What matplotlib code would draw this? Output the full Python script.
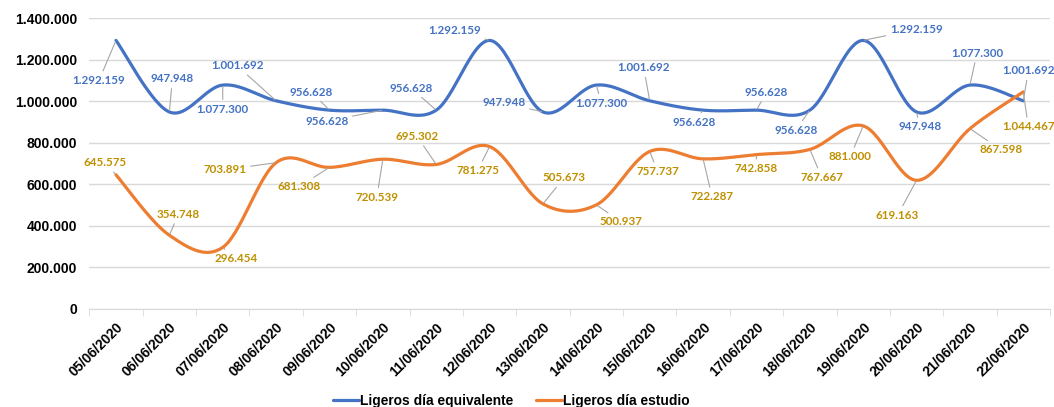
import numpy as np
import matplotlib
matplotlib.use("Agg")
import matplotlib.pyplot as plt
from matplotlib.ticker import FuncFormatter, FixedLocator

dates = ["05/06/2020", "06/06/2020", "07/06/2020", "08/06/2020", "09/06/2020",
         "10/06/2020", "11/06/2020", "12/06/2020", "13/06/2020", "14/06/2020",
         "15/06/2020", "16/06/2020", "17/06/2020", "18/06/2020", "19/06/2020",
         "20/06/2020", "21/06/2020", "22/06/2020"]
equivalente = [1292159, 947948, 1077300, 1001692, 956628, 956628, 956628,
               1292159, 947948, 1077300, 1001692, 956628, 956628, 956628,
               1292159, 947948, 1077300, 1001692]
estudio = [645575, 354748, 296454, 703891, 681308, 720539, 695302,
           781275, 505673, 500937, 757737, 722287, 742858, 767667,
           881000, 619163, 867598, 1044467]

# label offsets in pixels (dx, dy in image direction, down = positive)
off_eq = [(-17, 40), (3, -33), (0, 24), (-39, -35), (-18, -18), (-56, 11),
          (-25, -22), (-35, -10), (-39, -9), (5, 18), (-6, -33), (-9, 12),
          (10, -18), (-14, 20), (53, -11), (3, 15), (7, -32), (5, -30)]
off_es = [(-11, -12), (9, -21), (13, 11), (-51, 7), (-30, 19), (-6, 38),
          (-19, -28), (-12, 24), (21, -26), (25, 17), (8, 20), (9, 38),
          (0, 14), (12, 28), (-13, 31), (-19, 35), (31, 21), (5, 35)]

BLUE = "#4472C4"
ORANGE = "#ED7D31"
BLUE_TXT = "#4472C4"
GOLD_TXT = "#BF9000"


def fmt(v):
    return f"{int(v):,}".replace(",", ".")


def smooth(y, n=30):
    # Excel style smoothed line (Catmull-Rom bezier)
    y = np.asarray(y, float)
    x = np.arange(len(y), dtype=float)
    xs, ys = [], []
    for i in range(len(y) - 1):
        i0, i3 = max(i - 1, 0), min(i + 2, len(y) - 1)
        p0 = np.array([x[i], y[i]])
        p3 = np.array([x[i + 1], y[i + 1]])
        c1 = p0 + (np.array([x[i + 1], y[i + 1]]) - np.array([x[i0], y[i0]])) / 6
        c2 = p3 - (np.array([x[i3], y[i3]]) - np.array([x[i], y[i]])) / 6
        t = np.linspace(0, 1, n)[:, None]
        pts = ((1 - t) ** 3) * p0 + 3 * ((1 - t) ** 2) * t * c1 + 3 * (1 - t) * t ** 2 * c2 + t ** 3 * p3
        xs.extend(pts[:, 0])
        ys.extend(pts[:, 1])
    return np.array(xs), np.array(ys)


fig = plt.figure(figsize=(10.54, 4.07), dpi=100)
ax = fig.add_axes([89.3 / 1054, 98 / 407, (1050 - 89.3) / 1054, 291 / 407])

x = np.arange(len(dates))
sx, sy = smooth(equivalente)
ax.plot(sx, sy, color=BLUE, lw=2.3, solid_capstyle="round", label="Ligeros día equivalente", zorder=3)
sx, sy = smooth(estudio)
ax.plot(sx, sy, color=ORANGE, lw=2.3, solid_capstyle="round", label="Ligeros día estudio", zorder=3)

for vals, offs, col in [(equivalente, off_eq, BLUE_TXT), (estudio, off_es, GOLD_TXT)]:
    for i, v in enumerate(vals):
        dx, dy = offs[i]
        ax.annotate(fmt(v), xy=(i, v), xytext=(dx, -dy), textcoords="offset pixels",
                    ha="center", va="center", color=col, family="Lato", weight="bold",
                    size=8.4, zorder=4,
                    arrowprops=dict(arrowstyle="-", color="#A6A6A6", lw=0.8,
                                    shrinkA=1, shrinkB=1))

ax.set_xlim(-0.5, len(dates) - 0.5)
ax.set_ylim(0, 1400000)
ax.set_yticks(np.arange(0, 1400001, 200000))
ax.yaxis.set_major_formatter(FuncFormatter(lambda v, p: fmt(v)))
ax.grid(axis="y", color="#D9D9D9", lw=1)
ax.set_axisbelow(True)
for s in ["top", "right", "left"]:
    ax.spines[s].set_visible(False)
ax.spines["bottom"].set_color("#D9D9D9")
ax.tick_params(axis="y", length=0, pad=8.7)

ax.set_xticks(x)
ax.set_xticklabels(dates, rotation=45, ha="right", rotation_mode="anchor")
ax.xaxis.set_minor_locator(FixedLocator(np.arange(-0.5, len(dates), 1)))
ax.tick_params(axis="x", which="major", length=0, pad=8)
ax.tick_params(axis="x", which="minor", length=5, color="#D9D9D9")

for t in ax.get_xticklabels() + ax.get_yticklabels():
    t.set_fontfamily("Liberation Sans")
    t.set_fontweight("bold")
    t.set_fontsize(10)
    t.set_color("#000000")

leg = fig.legend(loc="center", bbox_to_anchor=(0.485, 6 / 407), ncol=2, frameon=False,
                 handlelength=1.9, handletextpad=0.1, columnspacing=1.6,
                 prop=dict(family="Liberation Sans", weight="bold", size=9.9))

fig.savefig("out.png", dpi=100)
